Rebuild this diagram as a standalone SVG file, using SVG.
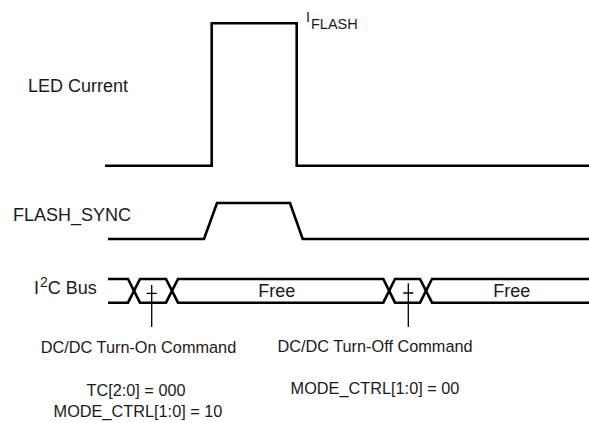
<svg xmlns="http://www.w3.org/2000/svg" width="589" height="423" viewBox="0 0 589 423">
<style>
.wave{fill:none;stroke:#000;stroke-width:2.6;stroke-linejoin:miter}
.tick{fill:none;stroke:#000;stroke-width:1.3}
text{font-family:"Liberation Sans",Arial,sans-serif;fill:#1a1a1a}
.lbl{font-size:18px}
.cmd{font-size:16.3px;text-anchor:middle}
</style>
<rect width="589" height="423" fill="#fff"/>
<g id="labels">
<text class="lbl" x="28" y="92">LED Current</text>
<text class="lbl" x="13" y="221">FLASH_SYNC</text>
<text x="34" y="293.5" font-size="18">I<tspan font-size="14" dx="1" dy="-7">2</tspan><tspan dy="7">C Bus</tspan></text>
<text x="306" y="21.5" font-size="14.5">I</text>
<text x="311" y="29" font-size="14.5">FLASH</text>
</g>
<g id="led-current">
<path class="wave" d="M105,165.7 H211.7 V23.3 H296.7 V165.7 H589"/>
</g>
<g id="flash-sync">
<path class="wave" d="M108,239 H204 L217,203 H290 L302.7,239 H589"/>
</g>
<g id="i2c-bus">
<path class="wave" d="M108,279 H128 L140,302.7 H166 L178,279 H383.3 L395,302.7 H420 L432,279 H589"/>
<path class="wave" d="M108,302.7 H128 L140,279 H166 L178,302.7 H383.3 L395,279 H420 L432,302.7 H589"/>
<text class="lbl" x="276.7" y="297.3" text-anchor="middle">Free</text>
<text class="lbl" x="511.7" y="297.3" text-anchor="middle">Free</text>
</g>
<g id="connectors">
<path class="tick" d="M151.7,285 V327 M146.7,293.3 H156.7"/>
<path class="tick" d="M408.3,283.3 V327 M403.3,293 H413.3"/>
</g>
<g id="turn-on">
<text class="cmd" x="138.5" y="353">DC/DC Turn-On Command</text>
<text class="cmd" x="136" y="396">TC[2:0] = 000</text>
<text class="cmd" x="138" y="416.7">MODE_CTRL[1:0] = 10</text>
</g>
<g id="turn-off">
<text class="cmd" x="375" y="351.7">DC/DC Turn-Off Command</text>
<text class="cmd" x="375" y="394">MODE_CTRL[1:0] = 00</text>
</g>
</svg>
